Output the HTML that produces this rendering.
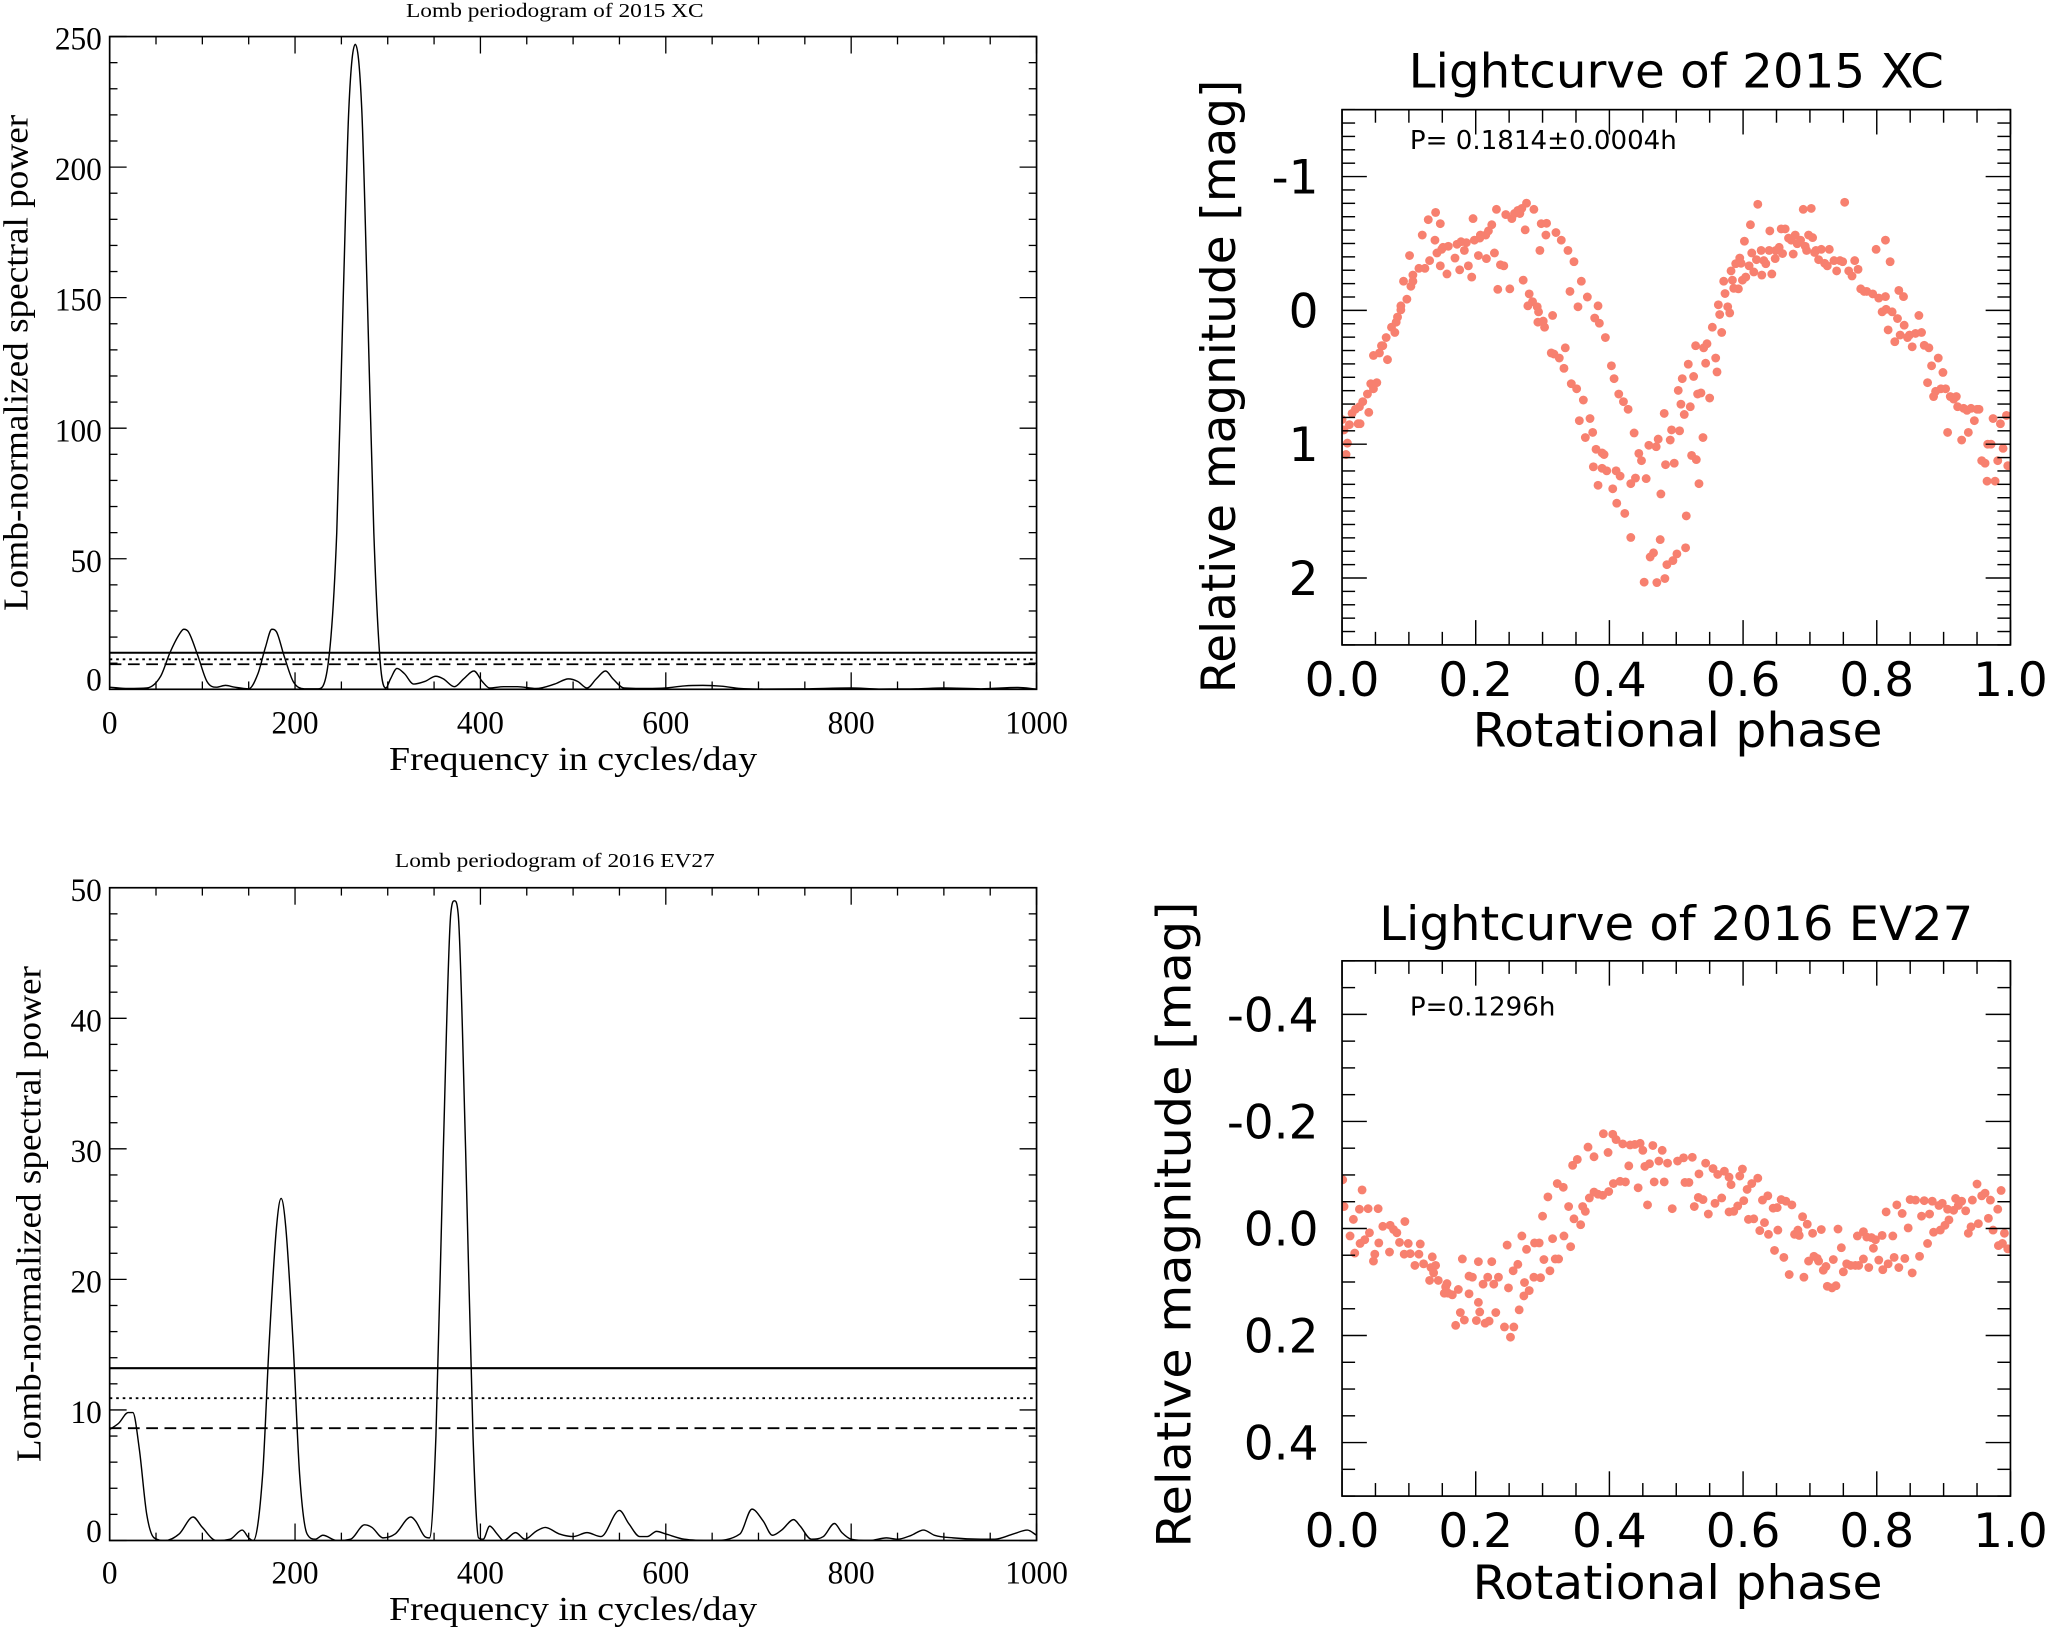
<!DOCTYPE html>
<html><head><meta charset="utf-8"><title>Lomb periodograms and lightcurves</title>
<style>
html,body{margin:0;padding:0;background:#fff;}
svg{display:block;}
.serif{font-family:"Liberation Serif","DejaVu Serif",serif;}
.sans{font-family:"DejaVu Sans","Liberation Sans",sans-serif;}
</style></head>
<body>
<svg id="fig" xmlns="http://www.w3.org/2000/svg" width="2047" height="1629" viewBox="0 0 1568 1247.8" preserveAspectRatio="none">
<rect x="0" y="0" width="1568" height="1248" fill="#fff"/>
</svg>
<script>
// ---------- Data: periodogram 2015 XC ----------
const pg1Freq = [0,20,40,55,65,75,80,85,95,105,115,125,135,150,160,168,175,180,188,198,210,225,235,245,252,258,265,272,278,285,292,298,303,310,318,328,340,352,360,372,382,393,402,410,425,440,460,480,495,505,515,525,535,543,555,580,600,620,640,660,680,700,750,800,830,870,900,940,980,1000];
const pg1Power = [0.8,0.3,0.5,5,14,21,23,22,13,3,0.8,1.5,0.8,0.2,6,16,23,22,13,3,0.2,0.2,8,60,150,222,247,222,150,60,10,0.5,4,8,6,2,3,5,4,1,4,7,3,0.5,1,1,0.3,2,4,3,0.5,4,7,4,0.5,0.3,0.5,1.3,1.5,1.2,0.3,0.1,0.2,0.5,0.1,0.2,0.5,0.2,0.7,0.1];
const pg1Levels = [14,11.5,9.6];
const pg1YTicks = [0,50,100,150,200,250];
const pgXTicks = [0,200,400,600,800,1000];

// ---------- Data: periodogram 2016 EV27 ----------
const pg2Freq = [0,10,20,25,32,40,48,60,75,90,100,115,130,143,150,155,165,172,180,185,190,198,205,213,222,230,245,260,275,283,295,308,325,330,340,345,352,360,368,372,376,384,392,398,403,410,418,425,438,448,460,470,485,500,515,530,550,560,572,580,590,600,620,650,680,693,705,715,725,738,745,757,770,782,790,800,820,838,850,865,878,890,910,940,955,975,990,1000];
const pg2Power = [8.5,9,9.8,9.8,7,2,0.2,0,0.5,1.8,1,0,0.1,0.8,0.2,0,5,15,24,26.2,24,15,5,0.5,0.1,0.4,0,0.1,1.2,1,0.2,0.5,1.8,1.5,0.3,0.2,8,30,48,49,48,30,8,0.2,0.1,1.1,0.5,0,0.6,0.1,0.7,1,0.5,0.3,0.6,0.3,2.3,1.3,0.3,0.3,0.7,0.5,0.1,0,0.5,2.4,1.5,0.4,0.8,1.6,1.1,0.1,0.3,1.3,0.6,0.1,0,0.2,0.1,0.4,0.8,0.4,0.2,0.1,0.1,0.5,0.8,0.4];
const pg2Levels = [13.2,10.9,8.6];
const pg2YTicks = [0,10,20,30,40,50];

// ---------- Data: lightcurve 2015 XC ----------
const lc1Phase = [0,.006,.008,.003,.011,.015,.020,.024,.027,.026,.031,.038,.040,.043,.047,.052,.047,.056,.059,.061,.068,.066,.074,.079,.081,.083,.088,.088,.092,.097,.101,.103,.106,.106,.115,.120,.124,.129,.131,.139,.140,.142,.147,.147,.149,.151,.157,.159,.169,.172,.176,.178,.183,.186,.189,.194,.196,.198,.204,.206,.207,.215,.216,.219,.224,.228,.231,.233,.237,.242,.245,.251,.254,.258,.263,.266,.269,.271,.274,.276,.278,.280,.285,.287,.292,.293,.294,.296,.298,.301,.303,.305,.306,.313,.315,.317,.320,.325,.328,.332,.334,.338,.341,.343,.347,.351,.353,.355,.358,.361,.364,.367,.371,.375,.376,.378,.380,.383,.383,.385,.389,.389,.392,.394,.396,.403,.405,.407,.410,.411,.414,.416,.421,.423,.428,.432,.432,.437,.439,.444,.448,.452,.455,.459,.461,.466,.470,.471,.473,.476,.477,.482,.483,.484,.486,.491,.493,.495,.497,.501,.503,.505,.507,.509,.512,.514,.515,.518,.521,.523,.526,.529,.530,.532,.534,.537,.540,.541,.544,.546,.550,.554,.559,.561,.563,.565,.568,.571,.573,.577,.580,.582,.584,.586,.589,.593,.595,.597,.599,.602,.604,.609,.611,.613,.616,.620,.622,.627,.628,.631,.634,.639,.640,.643,.648,.649,.654,.657,.659,.663,.668,.672,.675,.678,.681,.686,.690,.693,.695,.698,.702,.704,.707,.709,.713,.717,.722,.726,.729,.736,.740,.745,.749,.752,.758,.763,.767,.772,.776,.781,.785,.794,.799,.803,.808,.813,.813,.814,.817,.820,.823,.827,.831,.833,.835,.840,.841,.846,.849,.853,.858,.863,.867,.871,.876,.878,.882,.885,.888,.892,.896,.899,.903,.906,.910,.915,.919,.921,.927,.930,.935,.937,.941,.946,.950,.953,.957,.962,.965,.966,.971,.974,.977,.981,.985,.989,.994,.996];
const lc1Mag = [.816,1.077,.992,.893,.854,.770,.739,.847,.847,.720,.682,.625,.762,.548,.586,.540,.337,.318,.264,.264,.368,.203,.126,.165,.088,.050,-.034,-.004,-.218,-.084,-.410,-.180,-.218,-.264,-.314,-.563,-.314,-.678,-.372,-.525,-.732,-.429,-.648,-.333,-.456,-.471,-.272,-.479,-.391,-.494,-.303,-.513,-.448,-.506,-.333,-.249,-.686,-.525,-.410,-.540,-.563,-.563,-.387,-.594,-.640,-.429,-.755,-.157,-.341,-.333,-.716,-.161,-.686,-.724,-.747,-.724,-.762,-.226,-.602,-.801,-.034,-.123,-.065,-.755,-.027,.088,.011,-.448,-.648,.080,.126,-.563,-.651,.318,.038,.326,-.582,.356,-.525,.433,.280,-.448,-.142,.548,-.364,.586,-.027,.824,-.218,.670,.950,-.100,.808,.912,1.169,.057,1.038,1.307,-.034,.096,1.065,1.180,1.077,.203,1.199,.414,1.333,.510,1.199,1.441,.625,1.238,.682,1.517,.739,1.697,1.295,.916,1.253,1.069,1.123,2.031,1.257,1.008,1.843,1.812,1.019,2.034,.962,1.713,1.372,.770,2.004,1.153,1.900,.969,.893,1.870,1.142,1.820,.598,.900,.701,.510,.778,1.774,1.536,.402,.720,1.084,.494,.264,1.115,.625,1.295,.617,.950,.280,.395,.249,.655,.126,.356,.460,-.042,.031,.165,-.218,-.126,-.027,.019,-.295,-.226,-.165,-.349,-.161,-.391,-.352,-.226,-.517,-.249,-.333,-.640,-.429,-.287,-.379,-.793,-.448,-.264,-.372,-.349,-.448,-.594,-.272,-.387,-.448,-.471,-.609,-.425,-.609,-.540,-.525,-.421,-.563,-.498,-.525,-.755,-.479,-.448,-.563,-.762,-.544,-.433,-.448,-.379,-.456,-.352,-.333,-.456,-.372,-.295,-.372,-.364,-.808,-.295,-.257,-.372,-.307,-.161,-.142,-.142,-.123,-.456,-.092,.011,-.525,-.103,-.008,.146,-.364,.011,.234,.061,-.149,.184,-.103,.111,.203,.184,.272,.172,.038,.165,.261,.540,.280,.414,.644,.605,.356,.586,.464,.586,.912,.644,.663,.644,.720,.969,.732,.747,.912,.732,.824,.739,.739,1.123,1.142,1.276,1.000,1.000,.808,1.276,1.123,.847,1.031,.785,1.161];
const lc1YTicks = [-1,0,1,2];
const lcXTicks = [0,0.2,0.4,0.6,0.8,1.0];

// ---------- Data: lightcurve 2016 EV27 ----------
const lc2Phase = [.001,.003,.012,.017,.019,.026,.027,.030,.034,.039,.041,.047,.049,.054,.055,.061,.071,.072,.077,.082,.086,.093,.094,.099,.102,.109,.115,.117,.122,.131,.133,.135,.137,.140,.144,.153,.155,.157,.159,.165,.170,.174,.177,.180,.183,.190,.190,.195,.201,.204,.204,.206,.211,.214,.218,.220,.224,.227,.230,.234,.243,.247,.249,.252,.256,.257,.263,.265,.269,.272,.273,.276,.280,.287,.288,.295,.297,.300,.302,.308,.311,.315,.319,.322,.324,.331,.332,.339,.342,.345,.347,.352,.357,.360,.364,.368,.370,.377,.377,.383,.390,.391,.398,.399,.405,.406,.410,.416,.420,.424,.429,.431,.438,.443,.446,.450,.453,.457,.460,.465,.467,.474,.479,.482,.487,.494,.502,.511,.513,.519,.524,.527,.533,.534,.540,.544,.548,.555,.558,.562,.568,.572,.579,.579,.582,.586,.592,.595,.599,.601,.606,.608,.613,.616,.622,.625,.629,.632,.637,.638,.645,.647,.651,.652,.657,.661,.664,.669,.673,.677,.682,.684,.689,.691,.696,.698,.704,.706,.711,.713,.717,.720,.724,.726,.733,.735,.739,.742,.747,.750,.755,.761,.768,.771,.773,.780,.780,.785,.788,.792,.795,.798,.803,.808,.809,.814,.817,.824,.826,.830,.833,.838,.842,.847,.850,.853,.858,.864,.867,.871,.876,.879,.883,.885,.893,.895,.898,.902,.906,.908,.915,.918,.922,.927,.933,.937,.941,.943,.950,.952,.957,.962,.967,.970,.974,.981,.982,.986,.988,.991,.996];
const lc2Mag = [-.091,-.041,.014,-.017,.046,-.036,.028,-.072,.021,-.037,.008,.061,.048,-.037,.027,-.004,.044,-.006,.002,.008,.026,.048,-.013,.028,.047,.069,.048,.029,.066,.097,.073,.053,.083,.069,.097,.121,.109,.103,.121,.124,.181,.114,.157,.057,.171,.122,.089,.091,.172,.062,.138,.156,.104,.177,.091,.173,.062,.104,.157,.091,.184,.031,.111,.203,.079,.184,.067,.152,.014,.126,.101,.039,.116,.091,.027,.027,.092,-.023,.058,-.059,.079,.019,.057,-.084,.057,-.077,.014,-.041,.034,-.118,-.018,-.129,-.007,-.041,-.032,-.152,-.057,-.134,-.068,-.064,-.062,-.177,-.142,-.069,-.176,-.084,-.166,-.088,-.158,-.087,-.117,-.156,-.157,-.076,-.159,-.146,-.116,-.044,-.121,-.155,-.087,-.126,-.146,-.087,-.122,-.037,-.126,-.132,-.086,-.086,-.133,-.041,-.058,-.102,-.054,-.122,-.027,-.112,-.047,-.101,-.057,-.107,-.096,-.031,-.082,-.032,-.042,-.098,-.111,-.052,-.073,-.017,-.084,-.018,-.094,.004,-.053,-.011,-.061,.011,-.038,.041,-.039,.003,-.054,.054,-.051,.086,-.044,.011,.003,.013,-.022,.091,-.008,.061,.009,.052,.056,.061,.002,.078,.071,.108,.111,.058,.107,.001,.036,.081,.066,.069,.069,.014,.069,.006,.057,.016,.073,.017,.037,.021,.059,.013,.077,-.031,.066,.014,.054,-.044,.073,-.028,.056,-.001,-.054,.083,-.053,.052,-.023,-.052,.028,-.027,-.051,.007,-.043,.003,-.047,-.006,-.036,-.016,-.034,-.056,-.043,-.051,-.033,.009,-.003,-.053,-.083,-.009,-.061,-.066,-.019,-.053,.003,-.036,.032,-.071,.028,.009,.038];
const lc2YTicks = [-0.4,-0.2,0.0,0.2,0.4];

// ---------- helpers ----------
const NS = "http://www.w3.org/2000/svg";
const svg = document.getElementById('fig');
function mk(tag, attrs, parent) {
  const e = document.createElementNS(NS, tag);
  for (const k in attrs) e.setAttribute(k, attrs[k]);
  (parent || svg).appendChild(e);
  return e;
}
function txt(s, attrs, parent) {
  const e = mk('text', attrs, parent);
  e.textContent = s;
  return e;
}
function lin(d0, d1, r0, r1) { return v => r0 + (v - d0) * (r1 - r0) / (d1 - d0); }

function monotonePath(xs, ys, sx, sy) {
  const n = xs.length, m = new Array(n), d = [];
  for (let i = 0; i < n - 1; i++) d.push((ys[i+1]-ys[i])/(xs[i+1]-xs[i]));
  m[0] = d[0]; m[n-1] = d[n-2];
  for (let i = 1; i < n - 1; i++) m[i] = (d[i-1]*d[i] <= 0) ? 0 : (d[i-1]+d[i])/2;
  for (let i = 0; i < n - 1; i++) {
    if (d[i] === 0) { m[i] = 0; m[i+1] = 0; continue; }
    const a = m[i]/d[i], b = m[i+1]/d[i], s = a*a + b*b;
    if (s > 9) { const t = 3/Math.sqrt(s); m[i] = t*a*d[i]; m[i+1] = t*b*d[i]; }
  }
  let p = 'M' + sx(xs[0]).toFixed(2) + ',' + sy(ys[0]).toFixed(2);
  for (let i = 0; i < n - 1; i++) {
    const h = xs[i+1]-xs[i];
    const c1x = xs[i] + h/3, c1y = ys[i] + m[i]*h/3;
    const c2x = xs[i+1] - h/3, c2y = ys[i+1] - m[i+1]*h/3;
    p += 'C' + sx(c1x).toFixed(2) + ',' + sy(c1y).toFixed(2) + ' ' + sx(c2x).toFixed(2) + ',' + sy(c2y).toFixed(2) + ' ' + sx(xs[i+1]).toFixed(2) + ',' + sy(ys[i+1]).toFixed(2);
  }
  return p;
}

function periodogram(cfg) {
  const g = mk('g', {});
  
  
  const {L, R, T, B, ymin, ymax} = cfg;
  const sx = lin(0, 1000, L, R), sy = lin(ymin, ymax, B, T);
  const defs = mk('clipPath', {id: cfg.name + '-clip'}, g);
  mk('rect', {x: L, y: T, width: R - L, height: B - T}, defs);

  const curve = mk('path', {d: monotonePath(cfg.freq, cfg.power, sx, sy), fill: 'none', stroke: '#000', 'stroke-width': 1.1, 'clip-path': 'url(#' + cfg.name + '-clip)'}, g);
  
  

  const dashes = ['', '2,3', '9,5'];
  const lnames = ['significance-line-solid', 'significance-line-dotted', 'significance-line-dashed'];
  cfg.levels.forEach((v, i) => {
    const l = mk('line', {x1: L, x2: R, y1: sy(v), y2: sy(v), stroke: '#000', 'stroke-width': i === 0 ? 1.6 : 1.4, 'stroke-dasharray': dashes[i]}, g);
    
    
  });

  const frame = mk('rect', {x: L, y: T, width: R - L, height: B - T, fill: 'none', stroke: '#000', 'stroke-width': 1.3}, g);
  
  

  for (let v = 0; v <= 1000; v += 50) {
    const major = v % 200 === 0, len = major ? 13 : 6, x = sx(v);
    mk('line', {x1: x, x2: x, y1: B, y2: B - len, stroke: '#000', 'stroke-width': 1}, g);
    mk('line', {x1: x, x2: x, y1: T, y2: T + len, stroke: '#000', 'stroke-width': 1}, g);
  }
  pgXTicks.forEach(v => {
    const s = String(v);
    const t = txt(s, {x: sx(v), y: cfg.xLabelY, 'text-anchor': 'middle', class: 'serif', 'font-size': 25, textLength: s.length * 12, lengthAdjust: 'spacingAndGlyphs'}, g);
    
    
  });
  for (let v = cfg.minorStart; v <= ymax + 1e-9; v += cfg.minor) {
    const major = Math.abs(v / cfg.major - Math.round(v / cfg.major)) < 1e-6, len = major ? 13 : 6, y = sy(v);
    if (y > B + 0.1) continue;
    mk('line', {x1: L, x2: L + len, y1: y, y2: y, stroke: '#000', 'stroke-width': 1}, g);
    mk('line', {x1: R, x2: R - len, y1: y, y2: y, stroke: '#000', 'stroke-width': 1}, g);
  }
  cfg.yTicks.forEach(v => {
    const s = String(v);
    let y = sy(v) + 10;
    if (v === 0) y = Math.min(y, B + 1);
    const t = txt(s, {x: L - 6, y: y, 'text-anchor': 'end', class: 'serif', 'font-size': 25, textLength: s.length * 12, lengthAdjust: 'spacingAndGlyphs'}, g);
    
    
  });
  const ttl = txt(cfg.title, {x: (L + R) / 2 - 14, y: cfg.titleY, 'text-anchor': 'middle', class: 'serif', 'font-size': 15, textLength: cfg.titleLen, lengthAdjust: 'spacingAndGlyphs'}, g);
  
  
  const xt = txt('Frequency in cycles/day', {x: 439, y: cfg.xTitleY, 'text-anchor': 'middle', class: 'serif', 'font-size': 26, textLength: 282, lengthAdjust: 'spacingAndGlyphs'}, g);
  
  
  const yt = txt('Lomb-normalized spectral power', {x: 0, y: 0, 'text-anchor': 'middle', class: 'serif', 'font-size': 27, textLength: 380, lengthAdjust: 'spacingAndGlyphs', transform: 'translate(' + cfg.yTitleX + ',' + cfg.yTitleCY + ') rotate(-90)'}, g);
  
  
}

function lightcurve(cfg) {
  const g = mk('g', {});
  
  
  const {L, R, T, B, ymin, ymax} = cfg;
  const sx = lin(0, 1, L, R), sy = lin(ymin, ymax, T, B);
  const defs = mk('clipPath', {id: cfg.name + '-clip'}, g);
  mk('rect', {x: L, y: T, width: R - L, height: B - T}, defs);
  const pts = mk('g', {'clip-path': 'url(#' + cfg.name + '-clip)', fill: '#f7806f'}, g);
  
  
  for (let i = 0; i < cfg.phase.length; i++) {
    const c = mk('circle', {cx: sx(cfg.phase[i]), cy: sy(cfg.mag[i]), r: 3.4}, pts);
    
    
  }
  const frame = mk('rect', {x: L, y: T, width: R - L, height: B - T, fill: 'none', stroke: '#000', 'stroke-width': 1.3}, g);
  
  
  for (let k = 0; k <= 20; k++) {
    const v = k * 0.05, major = k % 4 === 0, len = major ? 19 : 10, x = sx(v);
    mk('line', {x1: x, x2: x, y1: B, y2: B - len, stroke: '#000', 'stroke-width': 1.1}, g);
    mk('line', {x1: x, x2: x, y1: T, y2: T + len, stroke: '#000', 'stroke-width': 1.1}, g);
  }
  lcXTicks.forEach(v => {
    const t = txt(v.toFixed(1), {x: sx(v), y: cfg.xLabelY, 'text-anchor': 'middle', class: 'sans', 'font-size': 36}, g);
    
    
  });
  const nMin = Math.round((ymax - ymin) / cfg.minor);
  for (let k = 0; k <= nMin; k++) {
    const v = ymin + k * cfg.minor;
    const major = cfg.yTicks.some(t => Math.abs(t - v) < 1e-6), len = major ? 19 : 10, y = sy(v);
    mk('line', {x1: L, x2: L + len, y1: y, y2: y, stroke: '#000', 'stroke-width': 1.1}, g);
    mk('line', {x1: R, x2: R - len, y1: y, y2: y, stroke: '#000', 'stroke-width': 1.1}, g);
  }
  cfg.yTicks.forEach(v => {
    const s = cfg.fmt(v);
    const t = txt(s, {x: 1010, y: sy(v) + 13, 'text-anchor': 'end', class: 'sans', 'font-size': 36}, g);
    
    
  });
  const ttl = txt(cfg.title, {x: (L + R) / 2, y: cfg.titleY, 'text-anchor': 'middle', class: 'sans', 'font-size': 36, textLength: cfg.titleLen, lengthAdjust: 'spacingAndGlyphs'}, g);
  
  
  const ann = txt(cfg.period, {x: 1080, y: cfg.annY, class: 'sans', 'font-size': 20}, g);
  
  
  const xt = txt('Rotational phase', {x: 1285, y: cfg.xTitleY, 'text-anchor': 'middle', class: 'sans', 'font-size': 36, textLength: 314, lengthAdjust: 'spacingAndGlyphs'}, g);
  
  
  const yt = txt('Relative magnitude [mag]', {x: 0, y: 0, 'text-anchor': 'middle', class: 'sans', 'font-size': 36, textLength: cfg.yTitleLen, lengthAdjust: 'spacingAndGlyphs', transform: 'translate(' + cfg.yTitleX + ',' + cfg.yTitleCY + ') rotate(-90)'}, g);
  
  
}

periodogram({name: 'periodogram-2015xc', L: 84, R: 794, T: 28, B: 528, ymin: 0, ymax: 250,
  freq: pg1Freq, power: pg1Power, levels: pg1Levels, yTicks: pg1YTicks, major: 50, minor: 10, minorStart: 0,
  xLabelY: 562, title: 'Lomb periodogram of 2015 XC', titleY: 13, titleLen: 228, xTitleY: 590,
  yTitleX: 21, yTitleCY: 278});
periodogram({name: 'periodogram-2016ev27', L: 84, R: 794, T: 680, B: 1180, ymin: 0, ymax: 50,
  freq: pg2Freq, power: pg2Power, levels: pg2Levels, yTicks: pg2YTicks, major: 10, minor: 2, minorStart: 0,
  xLabelY: 1213, title: 'Lomb periodogram of 2016 EV27', titleY: 664, titleLen: 245, xTitleY: 1241,
  yTitleX: 31, yTitleCY: 930});
lightcurve({name: 'lightcurve-2015xc', L: 1028, R: 1540, T: 84, B: 494, ymin: -1.5, ymax: 2.5, minor: 0.1,
  phase: lc1Phase, mag: lc1Mag, yTicks: lc1YTicks, fmt: v => String(v),
  xLabelY: 533, title: 'Lightcurve of 2015 XC', titleY: 67, titleLen: 410, annY: 114,
  period: 'P= 0.1814\u00b10.0004h', xTitleY: 572, yTitleX: 946, yTitleCY: 296, yTitleLen: 470});
lightcurve({name: 'lightcurve-2016ev27', L: 1028, R: 1540, T: 736, B: 1146, ymin: -0.5, ymax: 0.5, minor: 0.05,
  phase: lc2Phase, mag: lc2Mag, yTicks: lc2YTicks, fmt: v => v.toFixed(1),
  xLabelY: 1185, title: 'Lightcurve of 2016 EV27', titleY: 720, titleLen: 455, annY: 778,
  period: 'P=0.1296h', xTitleY: 1225, yTitleX: 912, yTitleCY: 938, yTitleLen: 495});
</script>
</body></html>
